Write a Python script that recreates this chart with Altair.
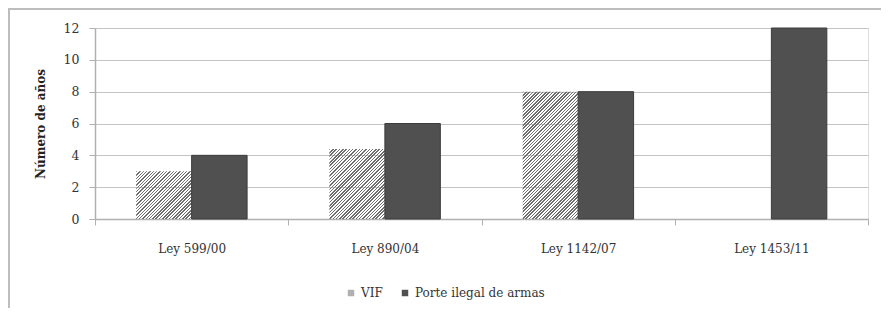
import altair as alt
import pandas as pd

leyes = ["Ley 599/00", "Ley 890/04", "Ley 1142/07", "Ley 1453/11"]
vif = [3, 4.4, 8, None]
porte = [4, 6, 8, 12]
series = ["VIF", "Porte ilegal de armas"]

rows = []
for l, v, p in zip(leyes, vif, porte):
    if v is not None:
        rows.append({"ley": l, "serie": series[0], "anos": v})
    rows.append({"ley": l, "serie": series[1], "anos": p})
df = pd.DataFrame(rows)

W_PLOT, H_PLOT = 773, 191
Y_MAX = 12
PAD_OUT = 0.742
BAR_W = W_PLOT / len(leyes) / (2 + 2 * PAD_OUT)
FONT = "DejaVu Serif"


def hatch(h_px, w_px=BAR_W, period=3.3):
    r = h_px / w_px
    s = (1 + r) / (1 + r * r)
    n = max(1, int(round((w_px + h_px) / period)))
    dark, light = "#6e6e6e", "rgba(255,255,255,0)"
    stops = []
    for k in range(n):
        a, m, b = k / n, (k + 0.45) / n, (k + 1) / n
        stops += [
            {"offset": a, "color": dark},
            {"offset": m, "color": dark},
            {"offset": m, "color": light},
            {"offset": b, "color": light},
        ]
    return {"gradient": "linear", "x1": 0, "y1": 0, "x2": s, "y2": s * r, "stops": stops}


x_enc = alt.X(
    "ley:N",
    sort=leyes,
    scale=alt.Scale(paddingInner=0, paddingOuter=0),
    axis=alt.Axis(
        title=None,
        tickBand="extent",
        labelAngle=0,
        labelFont=FONT,
        labelFontSize=12,
        labelColor="#333333",
        labelPadding=18,
        tickSize=6,
        tickColor="#b0b0b0",
        domainColor="#b0b0b0",
        domainWidth=1.5,
        grid=False,
    ),
)
xo_enc = alt.XOffset("serie:N", sort=series,
                     scale=alt.Scale(domain=series, paddingInner=0, paddingOuter=PAD_OUT))
y_enc = alt.Y(
    "anos:Q",
    scale=alt.Scale(domain=[0, Y_MAX], nice=False),
    axis=alt.Axis(
        title="Número de años",
        titleFont=FONT,
        titleFontSize=12,
        titleFontWeight="bold",
        titleColor="#222222",
        titlePadding=16,
        values=[0, 2, 4, 6, 8, 10, 12],
        labelFont=FONT,
        labelFontSize=12.5,
        labelColor="#333333",
        labelPadding=10,
        tickSize=6,
        tickColor="#b0b0b0",
        domainColor="#b0b0b0",
        domainWidth=1.5,
        gridColor="#c4c4c4",
        gridWidth=1,
    ),
)

base = alt.Chart(df)

layers = []
for l, v in zip(leyes, vif):
    if v is None:
        continue
    h_px = v / Y_MAX * H_PLOT
    layers.append(
        base.transform_filter((alt.datum.ley == l) & (alt.datum.serie == series[0]))
        .mark_bar(fill=hatch(h_px))
        .encode(x=x_enc, xOffset=xo_enc, y=y_enc)
    )

porte_layer = (
    base.transform_filter(alt.datum.serie == series[1])
    .mark_bar(stroke="#3c3c3c", strokeWidth=1)
    .encode(
        x=x_enc,
        xOffset=xo_enc,
        y=y_enc,
        color=alt.Color(
            "serie:N",
            scale=alt.Scale(domain=series, range=["#b0b0b0", "#505050"]),
            legend=alt.Legend(
                title=None,
                orient="none",
                legendX=250,
                legendY=259,
                direction="horizontal",
                symbolType="square",
                symbolSize=42,
                symbolStrokeWidth=0,
                labelFont=FONT,
                labelFontSize=12,
                labelColor="#333333",
                labelOffset=4,
                columnPadding=16,
            ),
        ),
    )
)

frame = alt.Chart(pd.DataFrame({"a": [0]})).mark_rect(
    fill=None, stroke="#bdbdbd", strokeWidth=2
).encode(
    x=alt.value(-86), x2=alt.value(W_PLOT + 40), y=alt.value(-19), y2=alt.value(H_PLOT + 120)
)

chart = (
    alt.layer(frame, *layers, porte_layer)
    .properties(
        width=W_PLOT,
        height=H_PLOT,
        autosize=alt.AutoSizeParams(type="none"),
        padding={"left": 87, "top": 20, "right": 13, "bottom": 89},
    )
    .configure_view(stroke=None)
    .configure(background="white")
)

chart.save("out.html", embed_options={"renderer": "svg", "actions": False})
